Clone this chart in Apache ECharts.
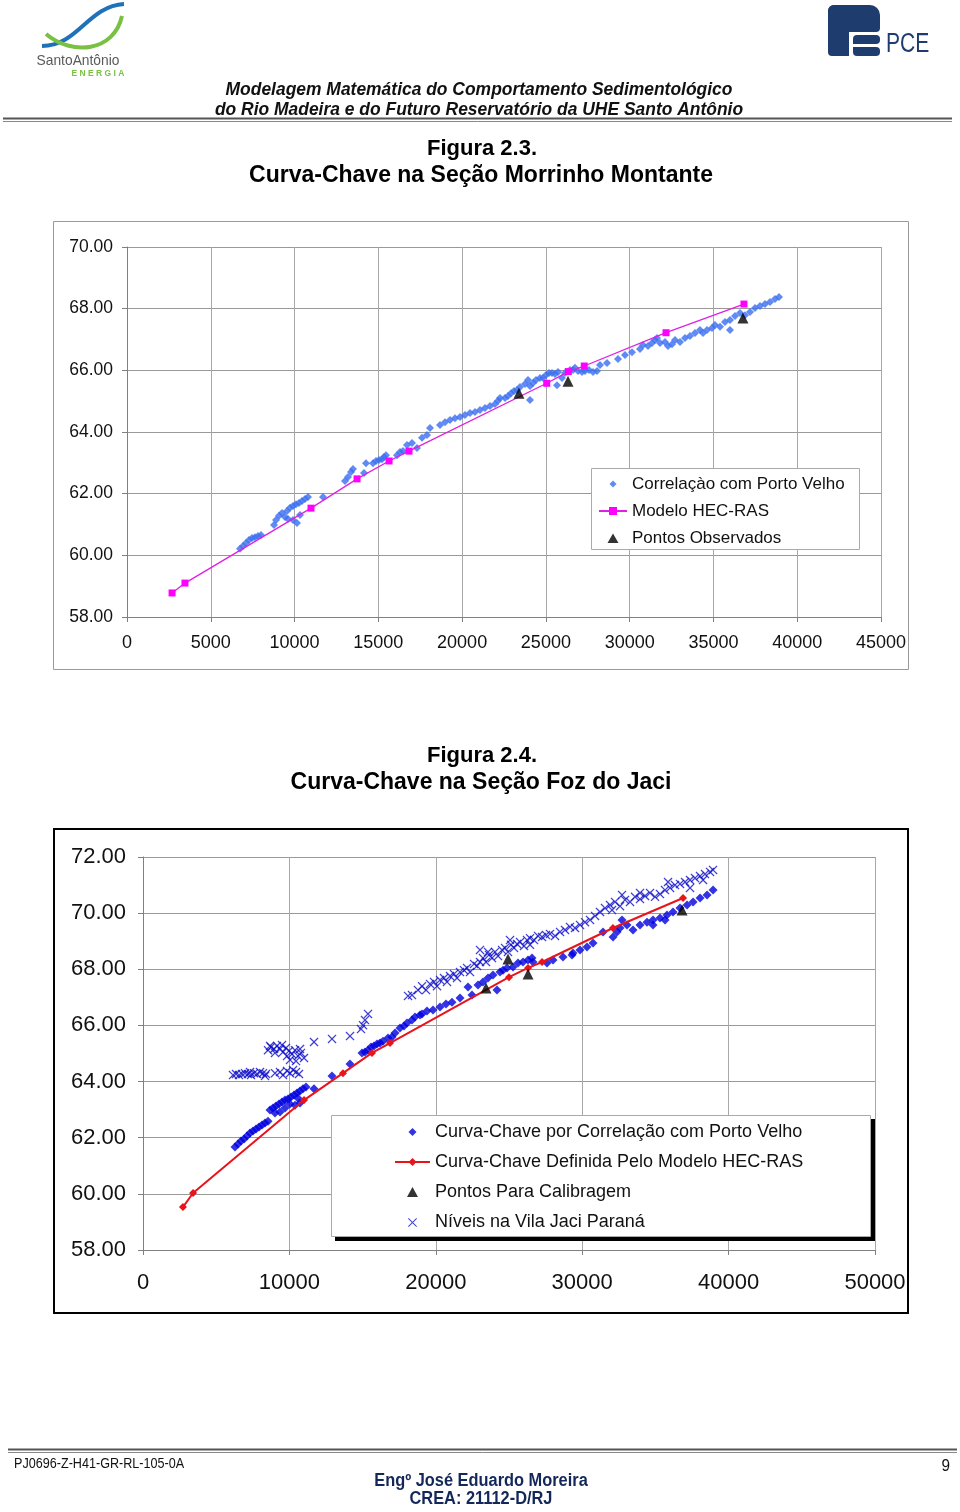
<!DOCTYPE html>
<html><head><meta charset="utf-8">
<script src="https://cdn.jsdelivr.net/npm/echarts@6/dist/echarts.min.js"></script>
<style>html,body{margin:0;padding:0;background:#fff}#c{width:960px;height:1512px}</style>
</head><body><div id="c"></div>
<script>
// ---------- Figura 2.3 data (vazão, nível) ----------
const corrPV1 = [[6744,60.21],[6923,60.30],[7102,60.40],[7281,60.50],[7460,60.56],[7639,60.59],[7818,60.63],[7997,60.66],
[8773,60.98],[8892,61.15],[9071,61.28],[9250,61.37],[9429,61.24],[9549,61.44],[9728,61.54],[9907,61.60],[10086,61.66],[10265,61.70],
[10444,61.76],[10623,61.83],[10802,61.89],[9907,61.15],[10146,61.05],[10325,61.31],[9609,61.18],[11697,61.89],[13010,62.41],[13189,62.54],
[13368,62.70],[13488,62.80],[14144,62.67],[14264,62.99],[14681,62.99],[14860,63.06],[15039,63.09],[15218,63.12],[15338,63.19],[15457,63.25],
[16114,63.25],[16293,63.35],[16472,63.38],[16710,63.58],[17009,63.64],[17307,63.48],[17606,63.81],[17904,63.90],[18083,64.13],[18680,64.23],
[18978,64.32],[19277,64.39],[19575,64.45],[19873,64.49],[20172,64.55],[20470,64.62],[20769,64.65],[21067,64.71],[21365,64.78],[21664,64.84],
[21962,64.91],[22141,65.01],[22261,65.10],[22559,65.10],[22738,65.17],[22917,65.26],[23096,65.33],[23275,65.36],[23454,65.46],[23753,65.56],
[23932,65.69],[24051,65.49],[24230,65.59],[24409,65.69],[24648,65.75],[24827,65.75],[25006,65.85],[25185,65.91],[25364,65.91],[25543,65.88],
[25722,65.95],[25961,65.75],[26140,65.91],[26438,66.01],[26617,66.01],[26737,66.08],[26916,65.98],[27154,65.95],[27333,65.98],[27572,66.01],
[27811,65.95],[28050,65.98],[28229,66.17],[24051,65.04],[25662,65.52],[28646,66.24],[29303,66.37],[29721,66.50],[30138,66.59],[30616,66.69],
[30795,66.82],[31093,66.79],[31332,66.89],[31511,66.98],[31630,67.05],[31809,66.89],[32108,66.92],[32287,66.79],[32526,66.85],[32705,66.98],
[33003,66.92],[33302,67.05],[33600,67.11],[33898,67.21],[34197,67.31],[34376,67.21],[34614,67.31],[34913,67.37],[35092,67.47],[35390,67.41],
[35689,67.57],[35987,67.63],[36286,67.76],[36584,67.86],[36882,67.79],[37181,67.89],[37479,68.02],[37778,68.09],[38076,68.15],[38374,68.22],
[38673,68.31],[38912,68.38],[35987,67.31]];
const hecras1 = [[2690,58.78],[3460,59.10],[10980,61.53],[13730,62.48],[15640,63.06],[16830,63.38],[25050,65.58],[26340,65.96],[27290,66.14],[32170,67.22],[36820,68.15]];
const observed1 = [[23390,65.26],[26320,65.65],[36760,67.70]];

// ---------- Figura 2.4 data ----------
const corrPV2 = [[6285,61.67],[6489,61.78],[6694,61.88],[6899,61.95],[7104,62.06],[7309,62.17],[7514,62.24],[7719,62.31],[7924,62.38],[8129,62.45],
[8334,62.52],[8539,62.59],[8675,62.99],[8880,63.06],[9085,63.13],[9290,63.20],[9495,63.27],[9700,63.34],[9905,63.38],[10110,63.45],[10315,63.52],
[10520,63.59],[10725,63.66],[10930,63.74],[11134,63.81],[9700,63.06],[10042,63.20],[10383,63.16],[10725,63.24],[9358,62.92],[9017,62.88],[10588,63.41],
[11681,63.74],[12911,64.20],[14140,64.63],[14960,65.02],[15165,65.05],[15370,65.12],[15575,65.23],[15780,65.27],[15985,65.34],[16190,65.37],[16394,65.44],
[16736,65.55],[17009,65.59],[17214,65.73],[17556,65.91],[17829,65.98],[18034,66.09],[18375,66.19],[18580,66.30],[18922,66.37],[19058,66.41],[19400,66.51],
[19810,66.55],[20288,66.66],[20698,66.76],[21108,66.83],[21654,66.98],[22201,67.37],[22474,67.08],[22884,67.44],[23225,67.55],[23567,67.69],[23909,67.80],
[24182,67.26],[24387,67.90],[24592,67.97],[24865,68.05],[25275,68.08],[25616,68.22],[25958,68.26],[26299,68.33],[26573,68.40],[26641,68.26],[27597,68.22],
[28007,68.33],[28690,68.44],[29373,68.58],[29305,68.51],[29851,68.69],[30330,68.79],[30740,68.94],[31423,69.33],[32106,69.15],[32584,69.47],[33062,69.58],
[33472,69.40],[33950,69.58],[34428,69.68],[34838,69.76],[35316,69.83],[35794,69.93],[36204,70.04],[36682,70.18],[37161,70.29],[37571,70.40],[38049,70.54],
[38527,70.65],[38937,70.82],[32720,69.76],[32379,69.33],[34838,69.58],[35658,69.76]];
const hecras2 = [[2730,59.53],[3420,60.03],[11000,63.34],[13660,64.30],[15640,65.02],[16870,65.37],[25000,67.72],[26300,68.05],[27260,68.26],[32100,69.47],[36890,70.54]];
const calib2 = [[23430,67.33],[24930,68.37],[26300,67.83],[36820,70.11]];
const jaci2 = [[6148,64.23],[6353,64.27],[6558,64.23],[6763,64.27],[6968,64.30],[7173,64.27],[7377,64.23],[7582,64.30],[7787,64.27],[7992,64.34],
[8197,64.30],[8402,64.27],[9017,64.30],[9358,64.34],[9563,64.23],[9837,64.38],[10042,64.30],[10247,64.41],[10451,64.34],[10656,64.27],[8334,64.20],[7309,64.34],
[8539,65.12],[8744,65.23],[8949,65.16],[9154,65.27],[9358,65.16],[9563,65.05],[9768,65.20],[9973,65.09],[10178,64.98],[10383,65.12],[10588,64.91],[10793,65.02],
[10998,64.84],[9017,65.02],[9495,65.30],[10042,64.77],[10451,64.73],[10725,65.16],[9837,64.91],[8675,65.27],
[11681,65.41],[12911,65.52],[14140,65.62],[14892,65.87],[15165,66.19],[15370,66.41],[15028,66.01],[18102,67.05],
[18375,67.08],[18785,67.26],[19058,67.40],[19332,67.26],[19605,67.48],[19878,67.55],[20083,67.40],[20288,67.62],[20561,67.69],[20766,67.55],[20971,67.76],
[21244,67.83],[21449,67.69],[21654,67.90],[21928,67.97],[22132,68.05],[22337,67.90],[22611,68.19],[22816,68.12],[23020,68.26],[23225,68.40],[23430,68.26],
[23635,68.51],[23840,68.40],[24045,68.62],[24250,68.47],[24523,68.69],[24728,68.76],[24933,68.62],[25138,68.87],[25343,68.76],[25548,68.90],[25753,68.97],
[26026,68.83],[26231,69.04],[26436,69.11],[26709,69.04],[26982,69.19],[27256,69.15],[27529,69.22],[27802,69.26],[28144,69.19],[28485,69.33],[28827,69.40],
[29168,69.51],[29510,69.47],[29851,69.58],[30193,69.68],[30534,69.76],[30876,69.90],[31218,70.04],[31559,70.18],[31901,70.29],[32242,70.40],[32584,70.25],
[32925,70.47],[33267,70.40],[33609,70.58],[33950,70.50],[34292,70.61],[34633,70.72],[34975,70.58],[35316,70.68],[35658,70.82],[36000,70.90],[36341,71.00],
[36682,71.04],[37024,71.11],[37366,71.18],[37707,71.25],[38049,71.32],[38390,71.39],[38732,71.47],[38937,71.54],[32037,70.11],[32720,70.65],[35863,71.11],
[37366,70.90],[38254,71.18],[33950,70.72],[23020,68.69],[23567,68.62],[26436,68.87],[25070,69.04]];

const names1 = ['Correlaçào com Porto Velho','Modelo HEC-RAS','Pontos Observados'];
const names2 = ['Curva-Chave por Correlação com Porto Velho','Curva-Chave Definida Pelo Modelo HEC-RAS','Pontos Para Calibragem','Níveis na Vila Jaci Paraná'];

const F = 'Liberation Sans, Arial, sans-serif';
const crossPath = 'path://M0,1 L1,0 L5,4 L9,0 L10,1 L6,5 L10,9 L9,10 L5,6 L1,10 L0,9 L4,5 Z';
// legend icons: the leading moves span the whole legend icon box so the mark keeps its proportions
const lgDiamond1 = 'path://M0,0M28,10M14,1.5L17.5,5L14,8.5L10.5,5Z';
const lgTriangle1 = 'path://M0,0M28,10M14,0.5L19.5,10L8.5,10Z';
const lgDiamond2 = 'path://M0,0M35,10M17.5,1L21.5,5L17.5,9L13.5,5Z';
const lgTriangle2 = 'path://M0,0M35,10M17.5,0L23,10L12,10Z';
const lgCross2 = 'path://M0,0M35,10M13,1.7L13.7,1L17.5,4.8L21.3,1L22,1.7L18.2,5.5L22,9.3L21.3,10L17.5,6.2L13.7,10L13,9.3L16.8,5.5Z';

function xAx(gi, max, itv, fs, margin) {
  return {gridIndex: gi, type: 'value', min: 0, max: max, interval: itv,
    axisLine: {show: true, lineStyle: {color: '#808080', width: 1}},
    axisTick: {show: true, length: 5, lineStyle: {color: '#808080'}},
    axisLabel: {fontFamily: F, fontSize: fs, color: '#111', margin: margin, formatter: v => String(v)},
    splitLine: {show: true, lineStyle: {color: '#a8a8a8', width: 1}}};
}
function yAx(gi, min, max, fs, margin) {
  return {gridIndex: gi, type: 'value', min: min, max: max, interval: 2,
    axisLine: {show: true, lineStyle: {color: '#808080', width: 1}},
    axisTick: {show: true, length: 5, lineStyle: {color: '#808080'}},
    axisLabel: {fontFamily: F, fontSize: fs, color: '#111', margin: margin, formatter: v => v.toFixed(2)},
    splitLine: {show: true, lineStyle: {color: '#999999', width: 1}}};
}
// narrow-looking text: scaled horizontally around its anchor
function ntext(txt, x, y, font, fill, sx, align) {
  return {type: 'text', z: 10, x: x, y: y, scaleX: sx,
    style: {text: txt, x: 0, y: 0, textAlign: align || 'center', textVerticalAlign: 'middle', font: font, fill: fill}};
}

const option = {
  animation: false,
  backgroundColor: '#ffffff',
  grid: [
    {left: 127, top: 247, width: 754, height: 370},
    {left: 143, top: 857, width: 732, height: 393}
  ],
  xAxis: [xAx(0, 45000, 5000, 18, 17), xAx(1, 50000, 10000, 22, 22)],
  yAxis: [yAx(0, 58, 70, 17.5, 14), yAx(1, 58, 72, 22, 17)],
  legend: [
    {data: [{name: names1[0], icon: lgDiamond1}, {name: names1[1]}, {name: names1[2], icon: lgTriangle1}],
     orient: 'vertical', left: 598, top: 475, padding: 0, itemWidth: 28, itemHeight: 10, itemGap: 9,
     selectedMode: false, z: 20,
     textStyle: {fontFamily: F, fontSize: 17, color: '#111', lineHeight: 18}},
    {data: [{name: names2[0], icon: lgDiamond2}, {name: names2[1]}, {name: names2[2], icon: lgTriangle2}, {name: names2[3], icon: lgCross2}],
     orient: 'vertical', left: 394, top: 1122, padding: 0, itemWidth: 35, itemHeight: 10, itemGap: 10,
     selectedMode: false, z: 20,
     textStyle: {fontFamily: F, fontSize: 18, color: '#111', lineHeight: 20}}
  ],
  series: [
    {name: names1[0], type: 'scatter', xAxisIndex: 0, yAxisIndex: 0, data: corrPV1, symbol: 'diamond', symbolSize: 8,
     itemStyle: {color: '#3a6ef0'}, z: 3},
    {name: names1[1], type: 'line', xAxisIndex: 0, yAxisIndex: 0, data: hecras1, symbol: 'rect', symbolSize: 7, showAllSymbol: true,
     lineStyle: {color: '#e020e0', width: 1.3}, itemStyle: {color: '#ff00ff'}, z: 4},
    {name: names1[2], type: 'scatter', xAxisIndex: 0, yAxisIndex: 0, data: observed1, symbol: 'triangle', symbolSize: 11,
     itemStyle: {color: '#000'}, z: 5},
    {name: names2[0], type: 'scatter', xAxisIndex: 1, yAxisIndex: 1, data: corrPV2, symbol: 'diamond', symbolSize: 9,
     itemStyle: {color: '#0000dd'}, z: 3},
    {name: names2[1], type: 'line', xAxisIndex: 1, yAxisIndex: 1, data: hecras2, symbol: 'diamond', symbolSize: 8, showAllSymbol: true,
     lineStyle: {color: '#e8141c', width: 2}, itemStyle: {color: '#e8141c'}, z: 4},
    {name: names2[2], type: 'scatter', xAxisIndex: 1, yAxisIndex: 1, data: calib2, symbol: 'triangle', symbolSize: 11,
     itemStyle: {color: '#000'}, z: 5},
    {name: names2[3], type: 'scatter', xAxisIndex: 1, yAxisIndex: 1, data: jaci2, symbol: crossPath, symbolSize: 9,
     itemStyle: {color: '#1010c8'}, z: 3}
  ],
  graphic: [
    // Santo Antônio logo
    {type: 'bezierCurve', z: 10, shape: {x1: 42, y1: 46, cpx1: 78, cpy1: 46, cpx2: 88, cpy2: 6, x2: 124, y2: 4}, style: {stroke: '#1f72b8', lineWidth: 4, fill: null}},
    {type: 'bezierCurve', z: 10, shape: {x1: 122, y1: 16, cpx1: 114, cpy1: 52, cpx2: 72, cpy2: 56, x2: 46, y2: 34}, style: {stroke: '#7ac143', lineWidth: 4, fill: null}},
    ntext('SantoAntônio', 78, 61, '15px ' + F, '#5a5a5a', 0.92),
    ntext('E N E R G I A', 98, 74, 'bold 8.5px ' + F, '#7ac143', 1),
    // PCE logo
    {type: 'rect', z: 10, shape: {x: 828, y: 5, width: 52, height: 27, r: [6, 10, 4, 0]}, style: {fill: '#1e3d6e'}},
    {type: 'rect', z: 10, shape: {x: 828, y: 5, width: 21, height: 51, r: [6, 0, 0, 4]}, style: {fill: '#1e3d6e'}},
    {type: 'rect', z: 10, shape: {x: 853, y: 35, width: 27, height: 9, r: [4, 4, 4, 0]}, style: {fill: '#1e3d6e'}},
    {type: 'rect', z: 10, shape: {x: 853, y: 47, width: 27, height: 9, r: [0, 4, 4, 4]}, style: {fill: '#1e3d6e'}},
    ntext('PCE', 886, 45, '27px ' + F, '#1e3d6e', 0.78, 'left'),
    // header
    ntext('Modelagem Matemática do Comportamento Sedimentológico', 479, 90, 'italic bold 19px ' + F, '#111', 0.918),
    ntext('do Rio Madeira e do Futuro Reservatório da UHE Santo Antônio', 479, 110, 'italic bold 19px ' + F, '#111', 0.918),
    {type: 'line', z: 10, shape: {x1: 3, y1: 118.5, x2: 952, y2: 118.5}, style: {stroke: '#555', lineWidth: 2}},
    {type: 'line', z: 10, shape: {x1: 3, y1: 121.5, x2: 952, y2: 121.5}, style: {stroke: '#888', lineWidth: 1}},
    // figure titles
    ntext('Figura 2.3.', 482, 149, 'bold 22px ' + F, '#000', 1),
    ntext('Curva-Chave na Seção Morrinho Montante', 481, 176, 'bold 23px ' + F, '#000', 1),
    ntext('Figura 2.4.', 482, 756, 'bold 22px ' + F, '#000', 1),
    ntext('Curva-Chave na Seção Foz do Jaci', 481, 783, 'bold 23px ' + F, '#000', 1),
    // chart frames
    {type: 'rect', z: -1, shape: {x: 53.5, y: 221.5, width: 855, height: 448}, style: {fill: null, stroke: '#999', lineWidth: 1}},
    {type: 'rect', z: -1, shape: {x: 54, y: 829, width: 854, height: 484}, style: {fill: null, stroke: '#000', lineWidth: 2}},
    // legend boxes
    {type: 'rect', z: 10, shape: {x: 591.5, y: 468.5, width: 268, height: 81}, style: {fill: '#fff', stroke: '#aaa', lineWidth: 1}},
    {type: 'rect', z: 10, shape: {x: 335, y: 1119, width: 540, height: 122}, style: {fill: '#000'}},
    {type: 'rect', z: 11, shape: {x: 331.5, y: 1115.5, width: 539, height: 121}, style: {fill: '#fff', stroke: '#aaa', lineWidth: 1}},
    // footer
    {type: 'line', z: 10, shape: {x1: 8, y1: 1449.5, x2: 957, y2: 1449.5}, style: {stroke: '#555', lineWidth: 2}},
    {type: 'line', z: 10, shape: {x1: 8, y1: 1452.5, x2: 957, y2: 1452.5}, style: {stroke: '#888', lineWidth: 1}},
    ntext('PJ0696-Z-H41-GR-RL-105-0A', 14, 1464, '14px ' + F, '#111', 0.9, 'left'),
    ntext('9', 950, 1466, '17px ' + F, '#111', 0.9, 'right'),
    ntext('Engº José Eduardo Moreira', 481, 1481, 'bold 18px ' + F, '#13275a', 0.91),
    ntext('CREA: 21112-D/RJ', 481, 1499, 'bold 18px ' + F, '#13275a', 0.91)
  ]
};
const chart = echarts.init(document.getElementById('c'), null, {renderer: 'canvas'});
chart.setOption(option);
</script></body></html>
